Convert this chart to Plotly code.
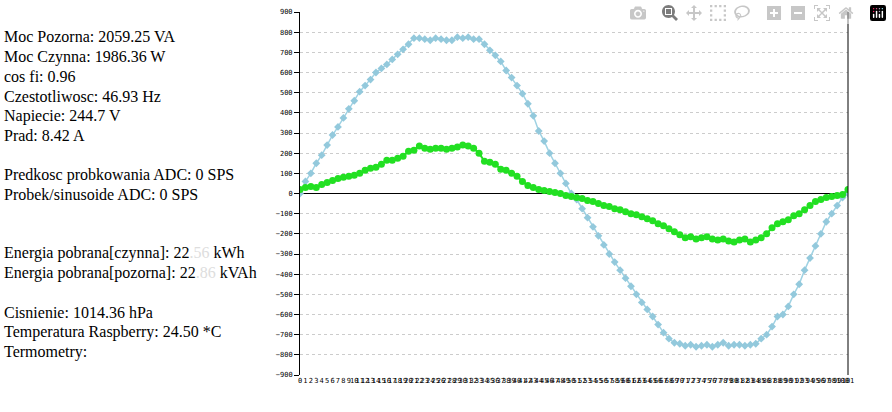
import plotly.graph_objects as go

idx = list(range(102))
blue = [0,60,100,150,190,240,290,330,375,420,460,505,535,565,600,620,640,665,690,715,740,770,
        770,765,760,770,765,760,760,775,770,775,765,765,
        740,710,685,655,610,575,535,495,445,385,310,260,200,150,100,50,0,
        -30,-75,-120,-165,-210,-255,-300,-340,-380,-420,-460,-500,-540,-575,-610,-650,-690,-720,-740,-745,-755,
        -750,-760,-755,-750,-760,-750,-740,-755,-750,-750,-755,-750,-745,
        -720,-700,-660,-610,-600,-560,-500,-450,-380,-320,-260,-200,-140,-100,-60,-20,0]
green = [20,30,35,30,45,55,65,75,80,85,90,100,115,125,130,145,165,165,175,185,210,215,235,
         225,220,225,225,220,225,230,240,235,225,200,160,155,145,120,115,100,85,60,40,30,20,15,10,5,0,-10,
         -15,-20,-25,-35,-40,-50,-60,-65,-75,-80,-90,-100,-105,-115,-125,-135,-150,-160,-175,-190,-205,-220,
         -215,-225,-220,-215,-225,-230,-225,-235,-240,-230,-225,-240,-230,-220,-200,-170,-150,-140,-130,
         -110,-100,-80,-60,-40,-30,-20,-15,-10,-5,20]

lines = [
    (33, "Moc Pozorna: 2059.25 VA"),
    (53, "Moc Czynna: 1986.36 W"),
    (73, "cos fi: 0.96"),
    (93, "Czestotliwosc: 46.93 Hz"),
    (113, "Napiecie: 244.7 V"),
    (133, "Prad: 8.42 A"),
    (173, "Predkosc probkowania ADC: 0 SPS"),
    (193, "Probek/sinusoide ADC: 0 SPS"),
    (252, "Energia pobrana[czynna]: 22<span style='color:#dddddd'>.56</span> kWh"),
    (272, "Energia pobrana[pozorna]: 22<span style='color:#dddddd'>.86</span> kVAh"),
    (312, "Cisnienie: 1014.36 hPa"),
    (332, "Temperatura Raspberry: 24.50 *C"),
    (352, "Termometry:"),
]

fig = go.Figure()
fig.add_trace(go.Scatter(x=idx, y=blue, mode="lines+markers",
    line=dict(color="#9fd2e3", width=1.5), marker=dict(symbol="diamond", size=6, color="#93c9dc")))
fig.add_trace(go.Scatter(x=idx, y=green, mode="lines+markers",
    line=dict(color="#22dd22", width=2), marker=dict(size=7, color="#22e022")))

for y, t in lines:
    fig.add_annotation(xref="paper", yref="paper", x=-298/548, y=1-(y-8)/367,
        xanchor="left", yanchor="middle", showarrow=False, text=t,
        font=dict(family="Liberation Serif", size=16, color="#000"))

fig.add_shape(type="line", xref="paper", yref="paper", x0=1, x1=1, y0=0, y1=1,
              line=dict(color="#000", width=1))

fig.update_layout(width=892, height=412, margin=dict(l=300, r=44, t=8, b=37),
    paper_bgcolor="white", plot_bgcolor="white", showlegend=False)
fig.update_xaxes(range=[0, 101], tickmode="array", tickvals=idx, ticktext=[str(i) for i in idx],
    tickangle=0, tickfont=dict(family="DejaVu Sans Mono", size=7, color="#000"),
    showgrid=False, zeroline=False, showline=False, ticks="")
fig.update_yaxes(range=[-900, 900], dtick=100, tickfont=dict(family="DejaVu Sans Mono", size=7, color="#000"),
    showgrid=True, gridcolor="#cccccc", griddash="dot", zeroline=True, zerolinecolor="#000",
    zerolinewidth=1, showline=True, linecolor="#000", ticks="outside", ticklen=5, tickcolor="#000")

fig.write_html("out.html", post_script="document.body.style.margin='0';")
